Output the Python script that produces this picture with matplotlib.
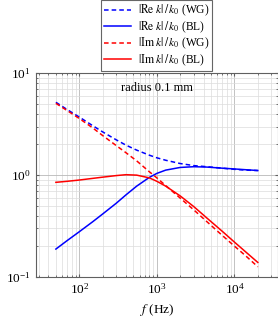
import matplotlib
matplotlib.use('Agg')
from matplotlib import pyplot as plt
import numpy as np

plt.rcParams['font.family'] = ['Liberation Serif', 'DejaVu Serif']
plt.rcParams['mathtext.fontset'] = 'stix'

# frequency (Hz) and |k|/k0
freq = [50, 70, 100, 150, 200, 300, 400, 550, 800, 1000, 1300, 2000,
        3000, 4400, 7000, 10000, 14000, 20000]
re_wg = [5.19, 4.4, 3.72, 3.05, 2.66, 2.22, 1.97, 1.76, 1.57, 1.48, 1.40,
         1.30, 1.24, 1.21, 1.17, 1.14, 1.12, 1.11]
re_bl = [0.188, 0.228, 0.278, 0.35, 0.415, 0.53, 0.64, 0.78, 0.95, 1.04,
         1.12, 1.19, 1.21, 1.20, 1.17, 1.15, 1.13, 1.11]
im_wg = [5.07, 4.3, 3.6, 2.9, 2.45, 1.95, 1.66, 1.38, 1.08, 0.94, 0.79,
         0.595, 0.455, 0.35, 0.255, 0.201, 0.161, 0.126]
im_bl = [0.85, 0.87, 0.895, 0.93, 0.955, 0.99, 1.01, 1.0, 0.94, 0.87,
         0.78, 0.625, 0.49, 0.38, 0.28, 0.22, 0.176, 0.139]

fig = plt.figure(figsize=(2.78, 3.2), dpi=100)
ax = fig.add_axes([0.1284, 0.1344, 0.8716, 0.6366])

re_lab = r'$|\mathrm{Re}\;k|\,/\,k_0$'
im_lab = r'$|\mathrm{Im}\;k|\,/\,k_0$'
ax.plot(freq, re_wg, color='blue', lw=1.1, dashes=(3, 2), label=re_lab + ' (WG)')
ax.plot(freq, re_bl, color='blue', lw=1.1, label=re_lab + ' (BL)')
ax.plot(freq, im_wg, color='red', lw=1.1, dashes=(3, 2), label=im_lab + ' (WG)')
ax.plot(freq, im_bl, color='red', lw=1.1, label=im_lab + ' (BL)')

ax.set_xscale('log')
ax.set_yscale('log')
lo, hi = np.log10(50), np.log10(20000)
pad = 0.1 * (hi - lo)
ax.set_xlim(10 ** (lo - pad), 10 ** (hi + pad))
ax.set_ylim(0.1, 10)

ax.grid(True, which='major', color='#b8b8b8', lw=0.6)
ax.grid(True, which='minor', color='#dcdcdc', lw=0.5)
ax.set_axisbelow(True)
for s in ax.spines.values():
    s.set_color('#606060')
    s.set_linewidth(0.8)
ax.tick_params(which='both', direction='in', color='#606060', labelsize=9.5,
               top=True, right=True, length=2.5)
ax.tick_params(which='minor', length=1.5)
ax.xaxis.set_minor_formatter(matplotlib.ticker.NullFormatter())
ax.yaxis.set_minor_formatter(matplotlib.ticker.NullFormatter())

ax.text(0.5, 0.955, 'radius 0.1 mm', transform=ax.transAxes, ha='center',
        va='top', fontsize=9)
ax.set_xlabel(r'$f$ (Hz)', fontsize=9.5, labelpad=4)

leg = ax.legend(loc='upper center', bbox_to_anchor=(0.5, 1.0),
                bbox_transform=matplotlib.transforms.blended_transform_factory(ax.transAxes, fig.transFigure),
                fontsize=8.3, frameon=True, fancybox=False, handlelength=2.3,
                borderaxespad=0.0, labelspacing=0.1, borderpad=0.25,
                handletextpad=0.6)
leg.get_frame().set_edgecolor('#404040')
leg.get_frame().set_linewidth(0.8)

plt.savefig('out.png', dpi=100)
